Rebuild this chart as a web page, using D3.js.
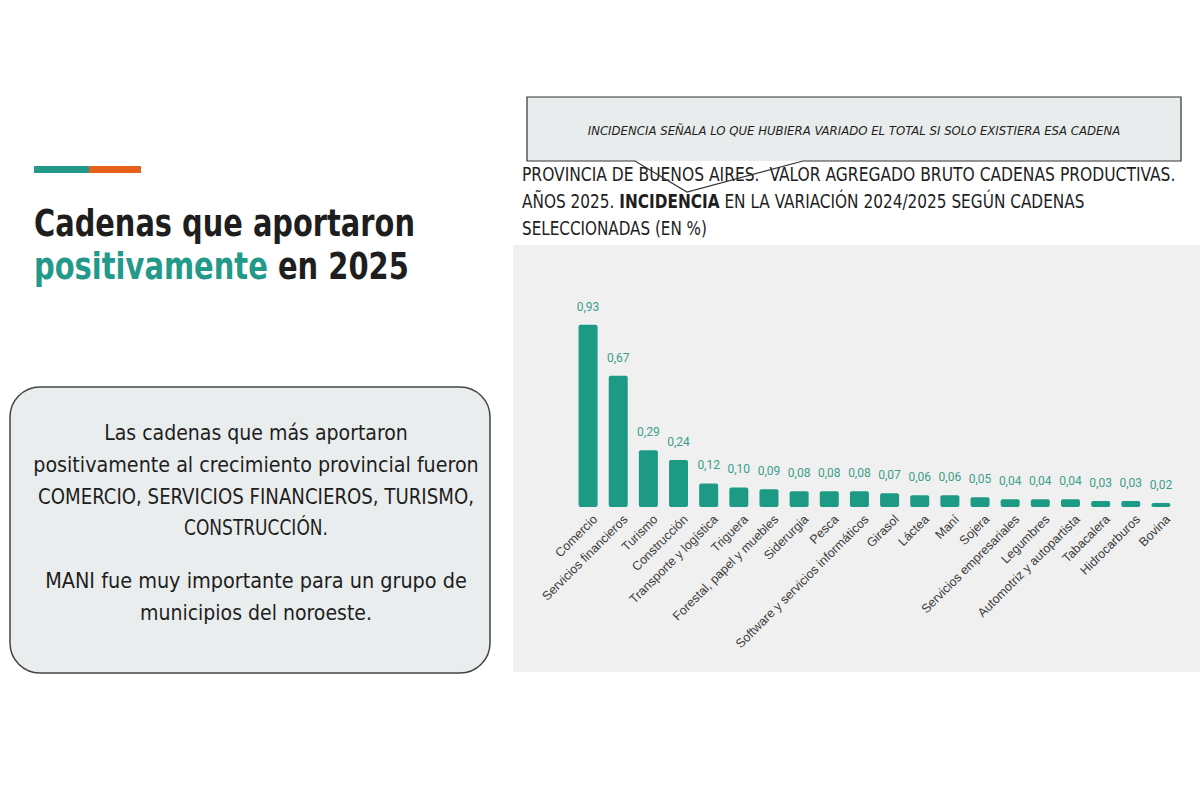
<!DOCTYPE html>
<html>
<head>
<meta charset="utf-8">
<script src="https://cdn.jsdelivr.net/npm/d3@7"></script>
<style>
  body { margin: 0; background: #fff; }
  svg { display: block; }
</style>
</head>
<body>
<div id="chart"></div>
<script>
// Cadenas productivas - incidencia en la variación 2024/2025
const categories = ["Comercio", "Servicios financieros", "Turismo", "Construcción",
  "Transporte y logística", "Triguera", "Forestal, papel y muebles", "Siderurgia", "Pesca",
  "Software y servicios informáticos", "Girasol", "Láctea", "Maní", "Sojera",
  "Servicios empresariales", "Legumbres", "Automotriz y autopartista", "Tabacalera",
  "Hidrocarburos", "Bovina"];
const values = [0.93, 0.67, 0.29, 0.24, 0.12, 0.10, 0.09, 0.08, 0.08, 0.08,
  0.07, 0.06, 0.06, 0.05, 0.04, 0.04, 0.04, 0.03, 0.03, 0.02];

const titleLines = ["Cadenas que aportaron", "positivamente en 2025"];
const boxLines = ["Las cadenas que más aportaron", "positivamente al crecimiento provincial fueron",
  "COMERCIO, SERVICIOS FINANCIEROS, TURISMO,", "CONSTRUCCIÓN.",
  "MANI fue muy importante para un grupo de", "municipios del noroeste."];
const calloutText = "INCIDENCIA SEÑALA LO QUE HUBIERA VARIADO EL TOTAL SI SOLO EXISTIERA ESA CADENA";

const condensed = "'DejaVu Sans Condensed', 'Liberation Sans Narrow', Roboto, sans-serif";

const svg = d3.select("#chart").append("svg")
    .attr("width", 1200).attr("height", 800);

svg.append("rect").attr("width", 1200).attr("height", 800).attr("fill", "#fff");

// squeeze a text element horizontally to a given width around its anchor x
function squeeze(sel, w) {
    sel.each(function() {
        let len = this.getComputedTextLength();
        let x = +this.getAttribute("x");
        let k = w / len;
        this.setAttribute("transform", `translate(${x},0) scale(${k},1) translate(${-x},0)`);
    });
}

// accent bar
svg.append("rect").attr("x", 34).attr("y", 166).attr("width", 55).attr("height", 7).attr("fill", "#23998a");
svg.append("rect").attr("x", 89).attr("y", 166).attr("width", 52).attr("height", 7).attr("fill", "#e5601b");

// left title
let t1 = svg.append("text").attr("x", 34).attr("y", 236)
    .attr("font-family", condensed).attr("font-weight", "bold").attr("font-size", 38)
    .attr("fill", "#1e1e1e").text(titleLines[0]);
squeeze(t1, 381);
let t2 = svg.append("text").attr("x", 34).attr("y", 279)
    .attr("font-family", condensed).attr("font-weight", "bold").attr("font-size", 38)
    .attr("fill", "#1e1e1e");
t2.append("tspan").attr("fill", "#23998a").text("positivamente");
t2.append("tspan").text(" en 2025");
squeeze(t2, 375);

// rounded text box
svg.append("rect").attr("x", 10).attr("y", 387).attr("width", 480).attr("height", 286)
    .attr("rx", 30).attr("fill", "#eaeded").attr("stroke", "#444").attr("stroke-width", 1.5);

const boxY = [440, 472, 504, 535, 588, 620];
const boxW = [304, 446, 436, 144, 422, 232];
boxLines.forEach((line, i) => {
    let t = svg.append("text").attr("x", 256).attr("y", boxY[i])
        .attr("text-anchor", "middle").attr("font-family", condensed)
        .attr("font-size", 22).attr("fill", "#1e1e1e").text(line);
    squeeze(t, boxW[i]);
});

// chart panel
svg.append("rect").attr("x", 513).attr("y", 245).attr("width", 687).attr("height", 427)
    .attr("fill", "#f0f0f0");

// chart title
const ct = svg.append("g").attr("font-family", condensed).attr("font-size", 19).attr("fill", "#1e1e1e");
let c1 = ct.append("text").attr("x", 522).attr("y", 181)
    .text("PROVINCIA DE BUENOS AIRES.  VALOR AGREGADO BRUTO CADENAS PRODUCTIVAS.")
    .attr("xml:space", "preserve").style("white-space", "pre");
squeeze(c1, 654);
let c2 = ct.append("text").attr("x", 522).attr("y", 208);
c2.append("tspan").text("AÑOS 2025. ");
c2.append("tspan").attr("font-weight", "bold").text("INCIDENCIA");
c2.append("tspan").text(" EN LA VARIACIÓN 2024/2025 SEGÚN CADENAS");
squeeze(c2, 563);
let c3 = ct.append("text").attr("x", 522).attr("y", 235).text("SELECCIONADAS (EN %)");
squeeze(c3, 185);

// callout
svg.append("rect").attr("x", 527).attr("y", 97).attr("width", 654).attr("height", 64)
    .attr("fill", "#e9ecec");
svg.append("path")
    .attr("d", "M527,97 H1181 V161 H803 L687,192 L635,161 H527 Z")
    .attr("fill", "none").attr("stroke", "#333").attr("stroke-width", 1.2);
let co = svg.append("text").attr("x", 854).attr("y", 135).attr("text-anchor", "middle")
    .attr("font-family", condensed).attr("font-style", "italic").attr("font-size", 13)
    .attr("fill", "#1e1e1e").text(calloutText);
squeeze(co, 533);

// bars
const x = d3.scaleBand().domain(categories).range([573, 1176])
    .paddingInner(0.37).paddingOuter(0.185);
const y = d3.scaleLinear().domain([0, 1]).range([507, 311]);

const data = categories.map((c, i) => ({ name: c, value: values[i] }));

svg.append("g").selectAll("rect").data(data).join("rect")
    .attr("x", d => x(d.name))
    .attr("y", d => y(d.value))
    .attr("width", x.bandwidth())
    .attr("height", d => y(0) - y(d.value))
    .attr("rx", 2)
    .attr("fill", "#1c9a84");

svg.append("g").selectAll("text").data(data).join("text")
    .attr("x", d => x(d.name) + x.bandwidth() / 2)
    .attr("y", d => y(d.value) - 14)
    .attr("text-anchor", "middle")
    .attr("font-family", "Roboto, sans-serif").attr("font-size", 12)
    .attr("fill", "#3a9e8b")
    .text(d => d3.format(".2f")(d.value).replace(".", ","));

svg.append("g").selectAll("text").data(data).join("text")
    .attr("transform", d => `translate(${x(d.name) + x.bandwidth() / 2 + 7},${517}) rotate(-45)`)
    .attr("text-anchor", "end")
    .attr("dy", "0.35em")
    .attr("font-family", "'Liberation Sans', Arial, sans-serif").attr("font-size", 12.5)
    .attr("fill", "#3c3c3c")
    .text(d => d.name);
</script>
</body>
</html>
